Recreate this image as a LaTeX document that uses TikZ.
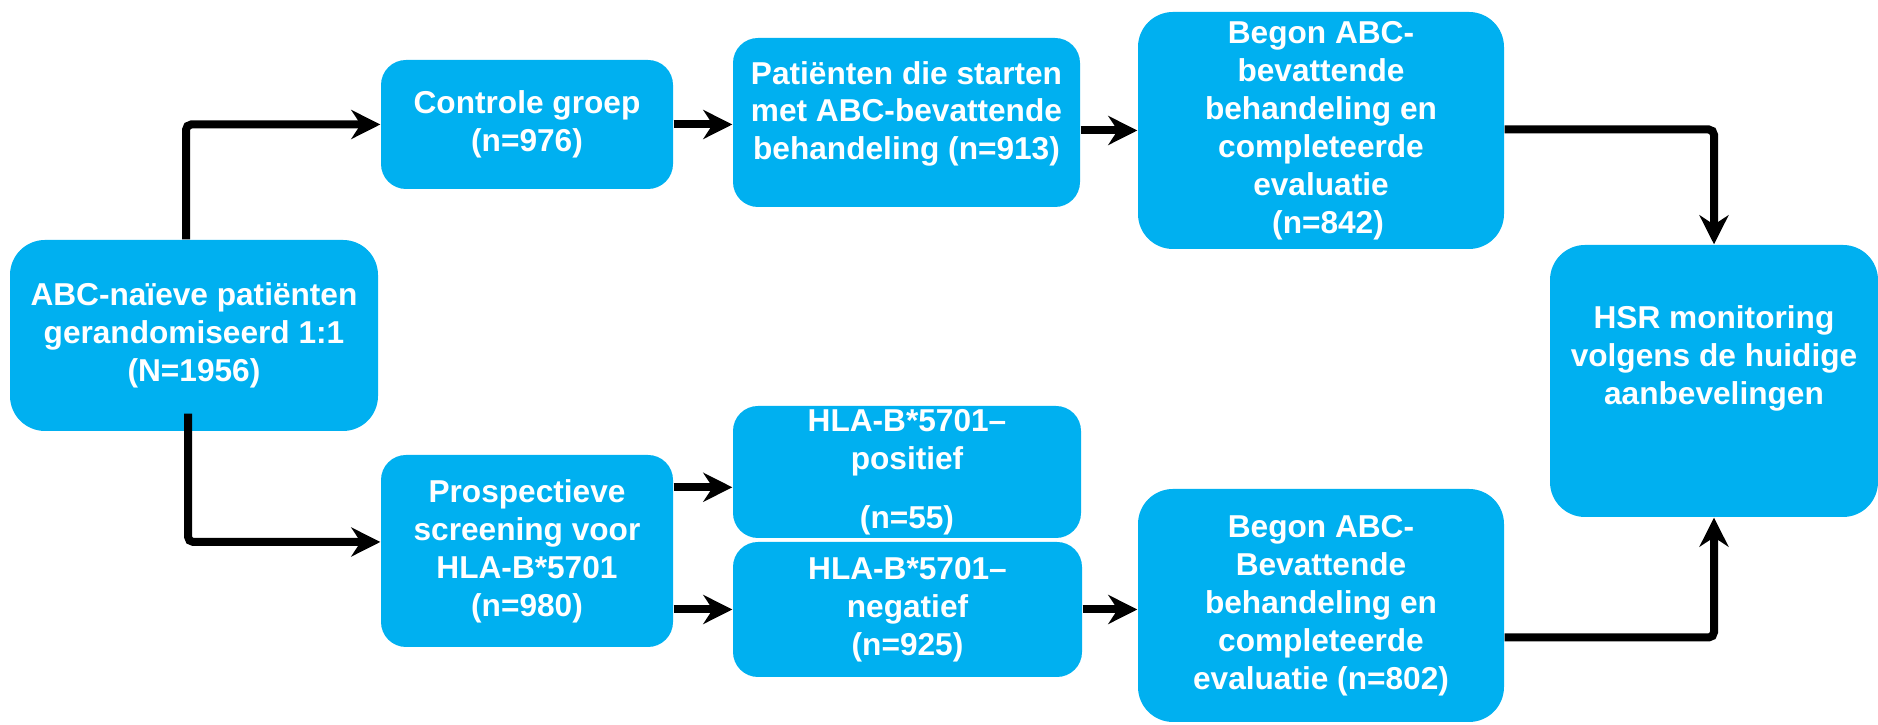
\documentclass[tikz,border=0pt]{standalone}
\usepackage{fontspec}
\setmainfont{Liberation Sans}
\usetikzlibrary{positioning,arrows.meta}
\definecolor{boxblue}{HTML}{00B0F0}
\tikzset{
  flowarrow/.style={-{Stealth[length=0.29cm, width=0.29cm]}, line width=0.08cm, rounded corners=1.5pt},
  flowbox/.style={fill=boxblue, rounded corners=0.25cm, text=white, font=\fontsize{9}{10.8}\selectfont\bfseries, align=center, inner sep=2pt},
  bigbox/.style={flowbox, rounded corners=0.35cm}
}

\begin{document}
\begin{tikzpicture}
      \useasboundingbox (0,0) rectangle (18.78,7.25);
      % left and upper row
      \node[bigbox, minimum width=3.68cm, minimum height=1.91cm] (start) at (1.94,3.895) {ABC-naïeve patiënten\\gerandomiseerd 1:1\\(N=1956)};
      \node[flowbox, minimum width=2.92cm, minimum height=1.29cm] (ctrl) at (5.27,6.005) {Controle groep\\(n=976)};
      \node[flowbox, minimum width=3.47cm, minimum height=1.69cm] (start913) at (9.065,6.025) {Patiënten die starten\\met ABC-bevattende\\behandeling (n=913)\\[-4pt]\mbox{}};
      \node[bigbox, minimum width=3.66cm, minimum height=2.37cm] (begon1) at (13.21,5.945) {Begon ABC-\\bevattende\\behandeling en\\completeerde\\evaluatie\\\hspace*{4pt}(n=842)};
      \node[bigbox, minimum width=3.28cm, minimum height=2.72cm] (hsr) at (17.14,3.44) {HSR monitoring\\volgens de huidige\\aanbevelingen\\[4pt]\mbox{}};
      % lower row
      \node[flowbox, minimum width=2.92cm, minimum height=1.92cm] (screen) at (5.27,1.74) {Prospectieve\\screening voor\\HLA-B*5701\\(n=980)};
      \node[flowbox, minimum width=3.48cm, minimum height=1.32cm, inner ysep=0pt] (pos) at (9.07,2.53) {HLA-B*5701–\\positief\\[6pt](n=55)};
      \node[flowbox, minimum width=3.49cm, minimum height=1.35cm] (neg) at (9.075,1.155) {HLA-B*5701–\\negatief\\(n=925)};
      \node[bigbox, minimum width=3.66cm, minimum height=2.33cm] (begon2) at (13.21,1.195) {Begon ABC-\\Bevattende\\behandeling en\\completeerde\\evaluatie (n=802)};
      % connectors
      \draw[flowarrow] ([xshift=-0.08cm]start.north) |- (ctrl.west);
      \draw[flowarrow] ([xshift=-0.06cm, yshift=0.18cm]start.south) |- ([yshift=0.09cm]screen.west);
      \draw[flowarrow] (ctrl.east) -- (ctrl.east -| start913.west);
      \draw[flowarrow] (start913.east |- begon1.west) -- (begon1.west);
      \draw[flowarrow] ([yshift=0.01cm]begon1.east) -| (hsr.north);
      \draw[flowarrow] ([yshift=-0.33cm]screen.north east) -- ([yshift=-0.33cm]screen.north east -| pos.west);
      \draw[flowarrow] (screen.east |- neg.west) -- (neg.west);
      \draw[flowarrow] (neg.east) -- (neg.east -| begon2.west);
      \draw[flowarrow] ([yshift=-0.32cm]begon2.east) -| (hsr.south);
    \end{tikzpicture}
\end{document}
